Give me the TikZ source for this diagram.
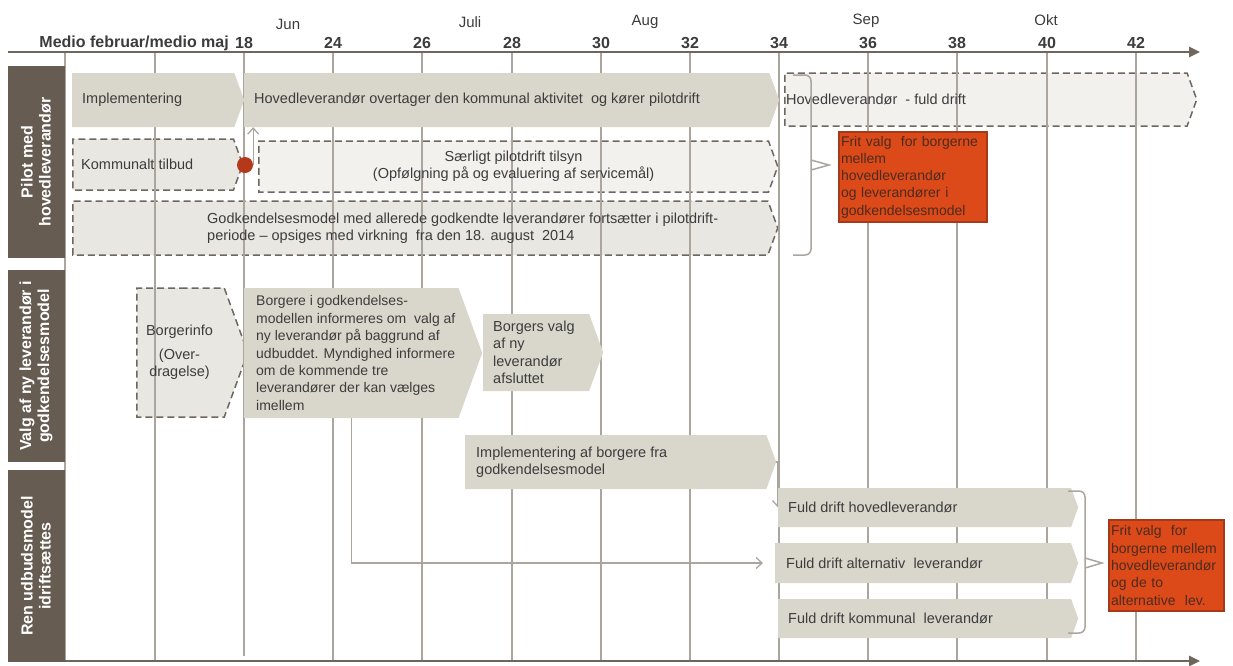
\documentclass[tikz,border=0pt]{standalone}
\usepackage{fontspec}
\setmainfont{Liberation Sans}
\usetikzlibrary{shapes.symbols,positioning,arrows.meta}

\definecolor{txtcol}{HTML}{3C3C3C}
\definecolor{phasefill}{HTML}{D9D7CC}
\definecolor{openfill}{HTML}{F2F1EE}
\definecolor{openfilldark}{HTML}{E8E7E2}
\definecolor{dashcol}{HTML}{6E6760}
\definecolor{gridcol}{HTML}{ABA59D}
\definecolor{axiscol}{HTML}{6F665E}
\definecolor{lanefill}{HTML}{675C52}
\definecolor{choicefill}{HTML}{DC4A19}
\definecolor{choiceborder}{HTML}{A53A1A}
\definecolor{choicetxt}{HTML}{4D2B20}
\definecolor{dotcol}{HTML}{B5381A}

\pgfdeclarelayer{back}
\pgfdeclarelayer{mid}
\pgfsetlayers{back,mid,main}

\tikzset{phase/.style={signal, signal to=east, signal pointer angle=140, fill=phasefill, inner sep=0pt}}
\tikzset{phaseopen/.style={phase, fill=openfill, draw=dashcol, line width=1.5pt, dash pattern=on 7pt off 4pt}}
\tikzset{txt/.style={font=\fontsize{14.5}{17.4}\selectfont, text=txtcol, align=left, inner sep=0pt}}
\tikzset{choice/.style={rectangle, fill=choicefill, draw=choiceborder, line width=1.5pt, text=choicetxt, align=left, inner sep=1pt, font=\fontsize{14}{17.3}\selectfont}}
\tikzset{lane/.style={rectangle, fill=lanefill, text=white, rotate=90, minimum height=57pt, align=center, inner sep=0pt, font=\bfseries\fontsize{16}{18}\selectfont}}
\tikzset{hdr/.style={font=\bfseries\fontsize{16}{18}\selectfont, text=txtcol, inner sep=0pt}}
\tikzset{month/.style={font=\fontsize{15}{18}\selectfont, text=txtcol, inner sep=0pt}}
\tikzset{gridline/.style={draw=gridcol, line width=1.3pt}}
\tikzset{axis/.style={draw=axiscol, line width=2.5pt, -{Triangle[length=11pt,width=10pt]}}}
\tikzset{conn/.style={draw=gridcol, line width=1.3pt}}
\tikzset{bracket/.style={draw=gridcol, line width=1.5pt}}

\begin{document}
\begin{tikzpicture}[x=1pt, y=-1pt, >={Straight Barb[length=6pt,width=11pt]}]
  \useasboundingbox (0,0) rectangle (1233,665);

  % time axis
  \node[hdr, anchor=east] (medio) at (229,43) {Medio februar/medio maj};
  \node[hdr] (wk18) at (244,43) {18};
  \node[hdr] (wk24) at (333,43) {24};
  \node[hdr] (wk26) at (422,43) {26};
  \node[hdr] (wk28) at (512,43) {28};
  \node[hdr] (wk30) at (601,43) {30};
  \node[hdr] (wk32) at (690,43) {32};
  \node[hdr] (wk34) at (779,43) {34};
  \node[hdr] (wk36) at (868,43) {36};
  \node[hdr] (wk38) at (957,43) {38};
  \node[hdr] (wk40) at (1047,43) {40};
  \node[hdr] (wk42) at (1136,43) {42};
  \node[month] (jun) at (288,24) {Jun};
  \node[month] (juli) at (470,22) {Juli};
  \node[month] (aug) at (645,22) {Aug};
  \node[month] (sep) at (866,21) {Sep};
  \node[month] (okt) at (1046,20) {Okt};

  \begin{pgfonlayer}{mid}
  \draw[gridline] (65,52) -- (65,661);
  \draw[gridline] (155,52) -- (155,661);
  \draw[gridline] (244,52) -- (244,656);
  \draw[gridline] (333,52) -- (333,661);
  \draw[gridline] (422,52) -- (422,661);
  \draw[gridline] (512,52) -- (512,661);
  \draw[gridline] (601,52) -- (601,661);
  \draw[gridline] (690,52) -- (690,661);
  \draw[gridline] (779,52) -- (779,661);
  \draw[gridline] (868,52) -- (868,661);
  \draw[gridline] (957,52) -- (957,661);
  \draw[gridline] (1047,52) -- (1047,661);
  \draw[gridline] (1136,52) -- (1136,661);
  \end{pgfonlayer}

  \draw[axis] (8,52) -- (1200,52);
  \draw[axis] (8,661) -- (1200,661);

  % lanes
  \node[lane, minimum width=192pt] (lanepilot) at (36,162) {Pilot med\\hovedleverandør};
  \node[lane, minimum width=192pt] (lanevalg) at (36,366) {Valg af ny leverandør i\\godkendelsesmodel};
  \node[lane, minimum width=192pt] (laneudbud) at (36,566) {Ren udbudsmodel\\idriftsættes};

  % pilot
  \begin{pgfonlayer}{back}
  \node[phaseopen, minimum width=412pt, minimum height=53pt, anchor=west] (fulddrift) at (784,99.5) {};
  \node[phaseopen, fill=openfilldark, minimum width=170pt, minimum height=51pt, anchor=west] (kommunalt) at (72,164.5) {};
  \node[phaseopen, minimum width=519pt, minimum height=51pt, anchor=west] (saerligt) at (258,166.5) {};
  \node[phaseopen, fill=openfilldark, minimum width=705pt, minimum height=54pt, anchor=west] (godk) at (72,228) {};
  \node[phaseopen, fill=openfilldark, minimum width=111pt, minimum height=129pt, anchor=west] (binfo) at (136,352.5) {};
  \end{pgfonlayer}

  \node[phase, minimum width=172pt, minimum height=54pt, anchor=west] (impl) at (72,100) {};
  \node[phase, minimum width=535pt, minimum height=54pt, anchor=west] (hoved) at (244,100) {};
  \node[txt, right=10pt of impl.west] (impltxt) {Implementering};
  \node[txt, right=10pt of hoved.west] (hovedtxt) {Hovedleverandør overtager den kommunal aktivitet\ \ og kører pilotdrift};
  \node[txt, right=2pt of fulddrift.west] (fulddrifttxt) {Hovedleverandør\ \ - fuld drift};
  \node[txt, right=9pt of kommunalt.west] (kommunalttxt) {Kommunalt tilbud};
  \node[txt, align=center] (saerligttxt) at (saerligt.center) {Særligt pilotdrift tilsyn\\(Opfølgning på og evaluering af servicemål)};
  \node[txt, right=135pt of godk.west] (godktxt) {Godkendelsesmodel med allerede godkendte leverandører fortsætter i pilotdrift-\\periode – opsiges med virkning\ \ fra den 18. august\ \ 2014};
  \node[circle, fill=dotcol, minimum size=16pt, inner sep=0pt] (reddot) at (245,165) {};

  \node[choice, minimum width=148pt, minimum height=90pt, text width=144pt] (frit1) at (913,177) {Frit valg\ \ for borgerne\\mellem\\hovedleverandør\\og leverandører i\\godkendelsesmodel};

  % valg af ny leverandoer
  \node[phase, minimum width=238pt, minimum height=130pt, anchor=west] (borgere) at (244,353) {};
  \node[phase, minimum width=120pt, minimum height=77pt, anchor=west] (bvalg) at (483,352.5) {};
  \node[txt, align=center] (binfotxt) at ([xshift=-1pt]binfo.center) {Borgerinfo\\[6pt](Over-\\dragelse)};
  \node[txt, font=\fontsize{14}{17.4}\selectfont, right=12pt of borgere.west] (borgeretxt) {Borgere i godkendelses-\\modellen informeres om\ \ valg af\\ny leverandør på baggrund af\\udbuddet. Myndighed informere\\om de kommende tre\\leverandører der kan vælges\\imellem};
  \node[txt, right=10pt of bvalg.west] (bvalgtxt) {Borgers valg\\af ny\\leverandør\\afsluttet};

  % udbudsmodel
  \node[phase, minimum width=311pt, minimum height=54pt, anchor=west] (implb) at (465,462) {};
  \node[phase, minimum width=300pt, minimum height=39pt, anchor=west] (fhoved) at (778,507.5) {};
  \node[phase, minimum width=303pt, minimum height=40pt, anchor=west] (falt) at (775,563) {};
  \node[phase, minimum width=300pt, minimum height=39pt, anchor=west] (fkomm) at (778,618.5) {};
  \node[txt, right=11pt of implb.west] (implbtxt) {Implementering af borgere fra\\godkendelsesmodel};
  \node[txt, right=10pt of fhoved.west] (fhovedtxt) {Fuld drift hovedleverandør};
  \node[txt, right=11pt of falt.west] (falttxt) {Fuld drift alternativ\ \ leverandør};
  \node[txt, right=10pt of fkomm.west] (fkommtxt) {Fuld drift kommunal\ \ leverandør};

  \node[choice, minimum width=115pt, minimum height=91pt, text width=111pt] (frit2) at (1166.5,565.5) {Frit valg\ \ for\\borgerne mellem\\hovedleverandør\\og de to\\alternative\ \ lev.};

  \begin{pgfonlayer}{mid}
  \draw[conn,->] (reddot.east) -- (reddot.east |- hoved.south);
  \draw[conn,->] (borgere.south) -- (borgere.south |- falt.west) -- ([xshift=-12pt]falt.west);
  \draw[conn,->] (implb.east) -| (fhoved.west);
  \end{pgfonlayer}

  % brackets
  \coordinate (b1top) at (793,75);
  \coordinate (b1bot) at (793,255);
  \coordinate (b2top) at (1068,491);
  \coordinate (b2bot) at (1068,633);
  \draw[bracket, rounded corners=6pt] (b1top) -- (811,75) -- (811,255) -- (b1bot);
  \draw[bracket] (811,160) -- (829,165) -- (811,170);
  \draw[bracket, rounded corners=6pt] (b2top) -- (1085,491) -- (1085,633) -- (b2bot);
  \draw[bracket] (1085,558) -- (1102,563) -- (1085,568);
\end{tikzpicture}
\end{document}
